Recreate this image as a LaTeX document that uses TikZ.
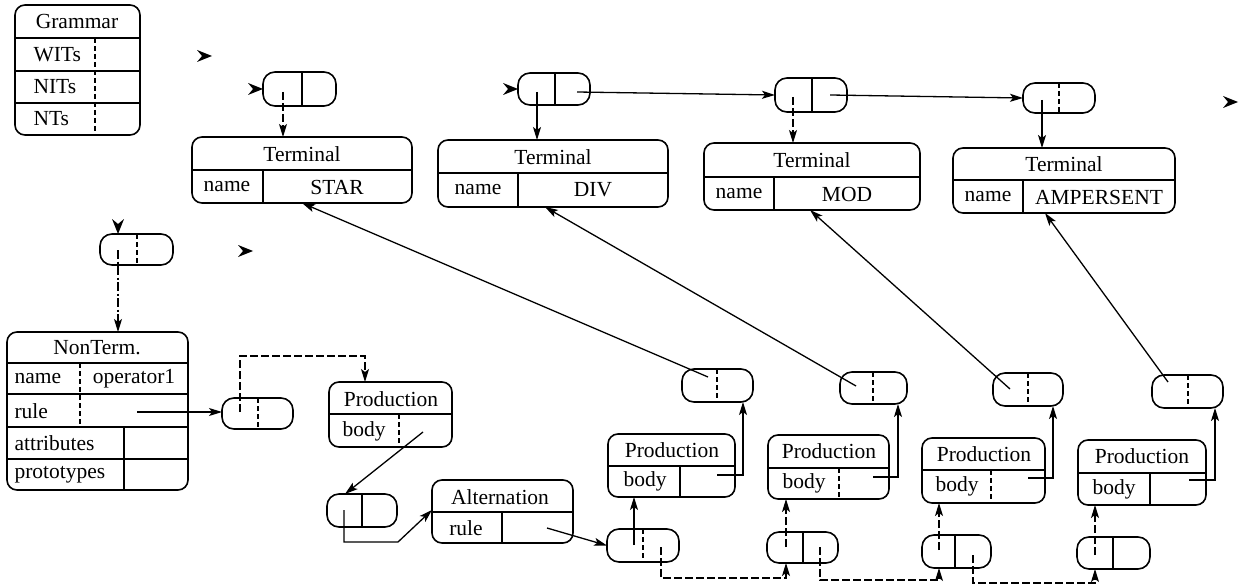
\documentclass[tikz,border=0pt]{standalone}
\usepackage{fontspec}
\setmainfont{Liberation Serif}
\usetikzlibrary{arrows.meta,calc,fit}

% a record box: name, x1, y1, x2, y2, corner radius
\newcommand\mkbox[6]{%
  \coordinate (#1-nw) at (#2,#3);
  \coordinate (#1-se) at (#4,#5);
  \node[frame, rounded corners=#6, fit=(#1-nw)(#1-se)] (#1) {};}

\begin{document}
\begin{tikzpicture}[x=1pt,y=-1pt,
  every node/.style={font=\fontsize{21.5}{24}\selectfont},
  frame/.style={draw, line width=1.6pt, inner sep=0pt, outer sep=0pt},
  sep/.style={line width=1.3pt},
  dsep/.style={line width=1.3pt, dash pattern=on 5pt off 3pt},
  tip/.style={-{Stealth[length=13pt,width=8pt,inset=3pt]}},
  conn/.style={line width=1.3pt, tip},
  dconn/.style={line width=1.3pt, tip, dash pattern=on 8pt off 3pt},
  ddconn/.style={line width=1.3pt, tip, dash pattern=on 9pt off 2.5pt on 2pt off 2.5pt},
  stray/.pic={\fill (0,0) -- (-15,6) -- (-10,0) -- (-15,-6) -- cycle;}]
\useasboundingbox (0,0) rectangle (1239,588);

% ---------- Grammar record ----------
\mkbox{G}{15}{5}{140}{135}{10pt}
\draw[sep] (15,38) -- (140,38) (15,71) -- (140,71) (15,103) -- (140,103);
\draw[dsep] (95,38) -- (95,135);
\node (Gh) at (77,21) {Grammar};
\node[anchor=west] (Gw) at (30,55) {WITs};
\node[anchor=west] (Gn) at (30,87) {NITs};
\node[anchor=west] (Gt) at (30,119) {NTs};

% ---------- list cells of the terminal list ----------
\mkbox{P1}{263}{72}{336}{106}{12pt}
\draw[sep] (302,72) -- (302,106);
\mkbox{P2}{518}{73}{590}{105}{12pt}
\draw[sep] (555,73) -- (555,105);
\mkbox{P3}{775}{78}{847}{112}{12pt}
\draw[sep] (812,78) -- (812,112);
\mkbox{P4}{1023}{83}{1095}{113}{12pt}
\draw[dsep] (1059,83) -- (1059,113);

% ---------- Terminal records ----------
\mkbox{T1}{192}{137}{412}{203}{10pt}
\draw[sep] (192,170) -- (412,170);
\draw[sep] (263,170) -- (263,203);
\node (T1h) at (302,154) {Terminal};
\node (T1n) at (227,187) {name};
\node (T1v) at (337,187) {STAR};

\mkbox{T2}{438}{140}{668}{207}{10pt}
\draw[sep] (438,173) -- (668,173);
\draw[sep] (518,173) -- (518,207);
\node (T2h) at (553,157) {Terminal};
\node (T2n) at (478,190) {name};
\node (T2v) at (593,190) {DIV};

\mkbox{T3}{704}{143}{920}{210}{10pt}
\draw[sep] (704,177) -- (920,177);
\draw[sep] (774,177) -- (774,210);
\node (T3h) at (812,160) {Terminal};
\node (T3n) at (739,194) {name};
\node (T3v) at (847,194) {MOD};

\mkbox{T4}{953}{148}{1175}{213}{10pt}
\draw[sep] (953,180) -- (1175,180);
\draw[sep] (1023,180) -- (1023,213);
\node (T4h) at (1064,164) {Terminal};
\node (T4n) at (988,197) {name};
\node (T4v) at (1099,197) {AMPERSENT};

% ---------- NonTerm record ----------
\mkbox{Pn}{100}{234}{173}{265}{12pt}
\draw[dsep] (137,234) -- (137,265);

\mkbox{N}{7}{332}{188}{490}{10pt}
\draw[sep] (7,363) -- (188,363) (7,394) -- (188,394) (7,427) -- (188,427) (7,459) -- (188,459);
\draw[dsep] (80,363) -- (80,427);
\draw[sep] (124,427) -- (124,490);
\node (Nh) at (97,348) {NonTerm.};
\node[anchor=west] (Nn) at (11,379) {name};
\node (Nv) at (134,379) {operator1};
\node[anchor=west] (Nr) at (11,411) {rule};
\node[anchor=west] (Na) at (11,443) {attributes};
\node[anchor=west] (Np) at (11,475) {prototypes};

\mkbox{Pr}{222}{398}{293}{429}{12pt}
\draw[dsep] (258,398) -- (258,429);

% ---------- first production and alternation ----------
\mkbox{PR0}{329}{382}{452}{447}{10pt}
\draw[sep] (329,414) -- (452,414);
\draw[dsep] (399,414) -- (399,447);
\node (PR0h) at (391,399) {Production};
\node (PR0b) at (364,431) {body};

\mkbox{PA}{327}{494}{397}{527}{12pt}
\draw[sep] (362,494) -- (362,527);

\mkbox{Alt}{432}{480}{573}{543}{10pt}
\draw[sep] (432,512) -- (573,512);
\draw[sep] (502,512) -- (502,543);
\node (Alth) at (500,497) {Alternation};
\node (Altr) at (466,528) {rule};

% ---------- alternative list and its productions ----------
\mkbox{Q1}{607}{529}{679}{562}{12pt}
\draw[dsep] (643,529) -- (643,562);
\mkbox{Q2}{767}{532}{838}{563}{12pt}
\draw[sep] (803,532) -- (803,563);
\mkbox{Q3}{922}{535}{991}{568}{12pt}
\draw[sep] (955,535) -- (955,568);
\mkbox{Q4}{1077}{537}{1150}{569}{12pt}
\draw[sep] (1113,537) -- (1113,569);

\mkbox{PR1}{608}{434}{735}{497}{10pt}
\draw[sep] (608,466) -- (735,466);
\draw[sep] (680,466) -- (680,497);
\node (PR1h) at (672,450) {Production};
\node (PR1b) at (645,481) {body};

\mkbox{PR2}{768}{435}{889}{499}{10pt}
\draw[sep] (768,468) -- (889,468);
\draw[dsep] (839,468) -- (839,499);
\node (PR2h) at (829,451) {Production};
\node (PR2b) at (804,483) {body};

\mkbox{PR3}{922}{438}{1045}{503}{10pt}
\draw[sep] (922,470) -- (1045,470);
\draw[dsep] (991,470) -- (991,503);
\node (PR3h) at (984,454) {Production};
\node (PR3b) at (957,486) {body};

\mkbox{PR4}{1078}{440}{1206}{505}{10pt}
\draw[sep] (1078,473) -- (1206,473);
\draw[sep] (1150,473) -- (1150,505);
\node (PR4h) at (1142,456) {Production};
\node (PR4b) at (1114,489) {body};

% ---------- symbol cells of the productions ----------
\mkbox{R1}{682}{369}{753}{402}{12pt}
\draw[dsep] (717,369) -- (717,402);
\mkbox{R2}{840}{372}{907}{404}{12pt}
\draw[dsep] (873,372) -- (873,404);
\mkbox{R3}{993}{373}{1063}{406}{12pt}
\draw[dsep] (1028,373) -- (1028,406);
\mkbox{R4}{1152}{375}{1223}{408}{12pt}
\draw[dsep] (1188,375) -- (1188,408);

% ---------- pointer origins ----------
\coordinate (P1s) at (283,92);
\coordinate (P2s) at (537,92);
\coordinate (P2n) at (577,92);
\coordinate (P3s) at (793,97);
\coordinate (P3n) at (830,95);
\coordinate (P4s) at (1042,100);
\coordinate (Pns) at (118,250);
\coordinate (Nrs) at (137,412);
\coordinate (Prs) at (240,412);
\coordinate (PR0k) at (365,356);
\coordinate (PR0s) at (423,432);
\coordinate (PAs) at (344,510);
\coordinate (PAk) at (398,542);
\coordinate (Altin) at (432,510);
\coordinate (Alts) at (547,528);
\coordinate (Q1a) at (634,545);
\coordinate (Q1b) at (661,547);
\coordinate (Q2a) at (786,547);
\coordinate (Q2b) at (820,547);
\coordinate (Q3a) at (939,550);
\coordinate (Q3b) at (973,555);
\coordinate (Q4a) at (1095,555);
\coordinate (Q2k) at (786,578);
\coordinate (Q3k) at (939,580);
\coordinate (Q4k) at (1095,583);
\coordinate (PR1s) at (717,475);
\coordinate (PR2s) at (873,477);
\coordinate (PR3s) at (1028,478);
\coordinate (PR4s) at (1189,480);
\coordinate (R1s) at (708,377);
\coordinate (R2s) at (856,386);
\coordinate (R3s) at (1010,389);
\coordinate (R4s) at (1168,382);

% ---------- terminal list ----------
\draw[dconn] (P1s) -- (P1s |- T1.north);
\draw[conn] (P2s) -- (P2s |- T2.north);
\draw[dconn] (P3s) -- (P3s |- T3.north);
\draw[conn] (P4s) -- (P4s |- T4.north);
\draw[conn] (P2n) -- (P3.west);
\draw[conn] (P3n) -- (P4.west);

% ---------- nonterminal, rule and first production ----------
\draw[ddconn] (Pns) -- (Pns |- N.north);
\draw[conn] (Nrs) -- (Nrs -| Pr.west);
\draw[dconn] (Prs) |- (PR0k) -- (PR0k |- PR0.north);
\draw[conn] (PR0s) -- ($(PA.north west)+(18,0)$);
\draw[conn] (PAs) |- (PAk) -- (Altin);
\draw[conn] (Alts) -- (Q1.west);

% ---------- alternatives ----------
\draw[conn] (Q1a) -- (Q1a |- PR1.south);
\draw[dconn] (Q2a) -- (Q2a |- PR2.south);
\draw[dconn] (Q3a) -- (Q3a |- PR3.south);
\draw[dconn] (Q4a) -- (Q4a |- PR4.south);
\draw[dconn] (Q1b) |- (Q2k) -- (Q2k |- Q2.south);
\draw[dconn] (Q2b) |- (Q3k) -- (Q3k |- Q3.south);
\draw[dconn] (Q3b) |- (Q4k) -- (Q4k |- Q4.south);

% ---------- production bodies ----------
\draw[conn] (PR1s) -| (R1.south -| 743,0);
\draw[conn] (PR2s) -| (R2.south -| 898,0);
\draw[conn] (PR3s) -| (R3.south -| 1053,0);
\draw[conn] (PR4s) -| (R4.south -| 1215,0);

% ---------- symbols to terminals ----------
\draw[conn] (R1s) -- (T1.south -| 302,0);
\draw[conn] (R2s) -- (T2.south -| 545,0);
\draw[conn] (R3s) -- (T3.south -| 810,0);
\draw[conn] (R4s) -- (T4.south -| 1045,0);

% ---------- dangling pointer heads ----------
\pic at (212,56) {stray};
\pic at (P1.west) {stray};
\pic at (P2.west) {stray};
\pic at (253,251) {stray};
\pic at (1238,102) {stray};
\pic[rotate=-90] at (Pn.north -| 118,0) {stray};
\end{tikzpicture}
\end{document}
